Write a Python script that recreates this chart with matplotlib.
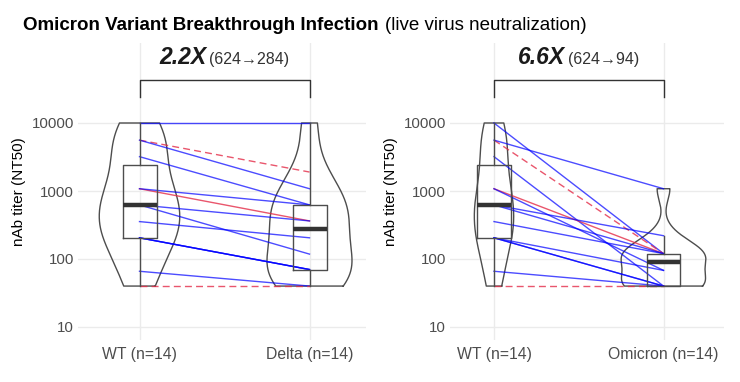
import numpy as np
import matplotlib
matplotlib.use("Agg")
import matplotlib.pyplot as plt
from matplotlib.transforms import offset_copy

plt.rcParams['font.family'] = ['Liberation Sans', 'DejaVu Sans']

# --- data ---
wt_vals = [10000, 5600, 5600, 3200, 1080, 1080, 624, 624, 355, 205, 205, 205, 66, 40]
delta_vals = [10000, 1900, 1080, 625, 363, 625, 363, 118, 205, 70, 70, 70, 40, 40]
omicron_vals = [120, 120, 1080, 40, 120, 68, 220, 120, 120, 68, 40, 40, 40, 40]
# subject line style: 'b' blue solid, 'r' red solid, 'rd' red dashed
subject_style = ['b', 'rd', 'b', 'b', 'r', 'b', 'b', 'b', 'b', 'b', 'b', 'b', 'b', 'rd']

left_labels = ['WT (n=14)', 'Delta (n=14)']
right_labels = ['WT (n=14)', 'Omicron (n=14)']
left_fold = ('2.2X', '(624\u2192284)')
right_fold = ('6.6X', '(624\u219294)')

y_ticks = [10, 100, 1000, 10000]
y_ticklabels = ['10', '100', '1000', '10000']

GRID = '#EBEBEB'
OUTLINE = '#4D4D4D'
BLUE = '#0000FF'
RED = '#E42C48'

W, H = 740, 382
fig = plt.figure(figsize=(W / 100, H / 100), dpi=100)

top_px, bot_px = 43, 340
ax_l = fig.add_axes([78 / W, 1 - bot_px / H, (366 - 78) / W, (bot_px - top_px) / H])
ax_r = fig.add_axes([450 / W, 1 - bot_px / H, (724 - 450) / W, (bot_px - top_px) / H])

# log scale: 10000 at y=123px, 68px per decade
ppd = 68.0
ylo = 10 ** (1 - (bot_px - 327) / ppd)
yhi = 10 ** (4 + (123 - top_px) / ppd)


def nrd0(x):
    x = np.asarray(x, dtype=float)
    sd = np.std(x, ddof=1)
    q1, q3 = np.percentile(x, [25, 75])
    lo = min(sd, (q3 - q1) / 1.34)
    return 0.9 * lo * len(x) ** (-0.2)


def kde(vals):
    lx = np.log10(vals)
    bw = nrd0(lx)
    grid = np.linspace(lx.min(), lx.max(), 512)
    d = np.exp(-0.5 * ((grid[:, None] - lx[None, :]) / bw) ** 2).sum(axis=1)
    d /= (len(lx) * bw * np.sqrt(2 * np.pi))
    return grid, d


def draw_panel(ax, a_vals, b_vals, labels, fold, xlim):
    ax.set_yscale('log')
    ax.set_ylim(ylo, yhi)
    ax.set_xlim(*xlim)
    for s in ax.spines.values():
        s.set_visible(False)
    ax.set_yticks(y_ticks)
    ax.set_yticklabels(y_ticklabels)
    ax.yaxis.set_minor_locator(matplotlib.ticker.NullLocator())
    ax.set_xticks([1, 2])
    ax.set_xticklabels(labels)
    ax.tick_params(length=0, colors='#4D4D4D')
    ax.tick_params(axis='y', labelsize=10.8, pad=3)
    ax.tick_params(axis='x', labelsize=11.3, pad=5)
    ax.grid(True, color=GRID, lw=1.0)
    ax.set_axisbelow(True)
    ax.set_ylabel('nAb titer (NT50)', fontsize=11, color='black', labelpad=4)

    groups = [np.array(a_vals, float), np.array(b_vals, float)]
    dens = [kde(g) for g in groups]
    dmax = max(d.max() for _, d in dens)
    for pos, (g, d) in zip([1, 2], dens):
        half = 0.25 * d / dmax
        yy = 10 ** g
        xs = np.concatenate([pos + half, (pos - half)[::-1], [pos + half[0]]])
        ys = np.concatenate([yy, yy[::-1], [yy[0]]])
        ax.plot(xs, ys, color=OUTLINE, lw=1.0, zorder=2)

    # paired lines
    for a, b, st in zip(a_vals, b_vals, subject_style):
        if st == 'b':
            ax.plot([1, 2], [a, b], color=BLUE, lw=1.0, alpha=0.7, zorder=3)
        elif st == 'r':
            ax.plot([1, 2], [a, b], color=RED, lw=1.0, alpha=0.8, zorder=3)
        else:
            ax.plot([1, 2], [a, b], color=RED, lw=1.0, alpha=0.8, zorder=3,
                    dashes=(5, 3))

    # boxplots (stats on log scale, like ggplot)
    for pos, g in zip([1, 2], groups):
        lg = np.log10(g)
        q1, med, q3 = np.percentile(lg, [25, 50, 75])
        iqr = q3 - q1
        up = lg[lg <= q3 + 1.5 * iqr].max()
        dn = lg[lg >= q1 - 1.5 * iqr].min()
        bw = 0.1
        bx = [pos - bw, pos + bw, pos + bw, pos - bw, pos - bw]
        by = 10 ** np.array([q1, q1, q3, q3, q1])
        ax.plot(bx, by, color=OUTLINE, lw=1.0, zorder=4)
        ax.plot([pos, pos], [10 ** q3, 10 ** up], color=OUTLINE, lw=1.0, zorder=4)
        ax.plot([pos, pos], [10 ** dn, 10 ** q1], color=OUTLINE, lw=1.0, zorder=4)
        ax.plot([pos - bw, pos + bw], [10 ** med, 10 ** med], color='#333333',
                lw=3.2, solid_capstyle='butt', zorder=5)

    # bracket
    yb = 10 ** (4 + (123 - 80) / ppd)
    yl = 10 ** (4 + (123 - 97) / ppd)
    ax.plot([1, 1, 2, 2], [yl, yb, yb, yl], color='#333333', lw=1.0,
            clip_on=False, zorder=5)
    yt = 10 ** (4 + (123 - 64) / ppd)
    t1 = ax.text(1.5, yt, fold[0], fontsize=16.5, fontweight='bold',
                 fontstyle='italic', ha='left', va='baseline', color='#1A1A1A')
    t2 = ax.text(1.5, yt, fold[1], fontsize=11.5, ha='left', va='baseline',
                 color='#333333')
    r = fig.canvas.get_renderer()
    w1 = t1.get_window_extent(r).width
    w2 = t2.get_window_extent(r).width
    gap = 3
    tot = w1 + gap + w2
    t1.set_transform(offset_copy(ax.transData, fig=fig, x=-tot / 2, y=0, units='dots'))
    t2.set_transform(offset_copy(ax.transData, fig=fig, x=-tot / 2 + w1 + gap, y=0,
                                 units='dots'))


draw_panel(ax_l, wt_vals, delta_vals, left_labels, left_fold,
           (1 - (139.5 - 78) / 170, 2 + (366 - 309.5) / 170))
draw_panel(ax_r, wt_vals, omicron_vals, right_labels, right_fold,
           (1 - (494 - 450) / 169.5, 2 + (724 - 663.5) / 169.5))

# title
ty = 1 - 29.5 / H
tt1 = fig.text(23 / W, ty, 'Omicron Variant Breakthrough Infection', fontsize=13.5,
               fontweight='bold', ha='left', va='baseline')
r = fig.canvas.get_renderer()
tw = tt1.get_window_extent(r).width
fig.text((23 + tw + 7) / W, ty, '(live virus neutralization)', fontsize=13.5,
         ha='left', va='baseline')

fig.savefig('out.png', dpi=100)
